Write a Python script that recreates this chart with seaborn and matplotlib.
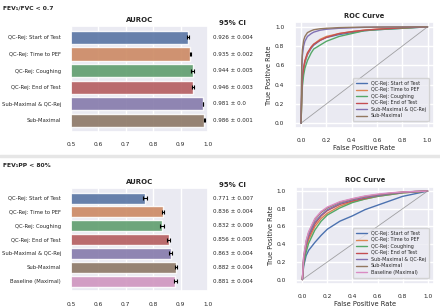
import numpy as np
import pandas as pd
import matplotlib
matplotlib.use("Agg")
import matplotlib.pyplot as plt
import seaborn as sns
from matplotlib.lines import Line2D

# veriler: ust panel (FEV1/FVC < 0.7)
labels_top = ["QC-Rej: Start of Test", "QC-Rej: Time to PEF", "QC-Rej: Coughing",
              "QC-Rej: End of Test", "Sub-Maximal & QC-Rej", "Sub-Maximal"]
auc_top = [0.926, 0.935, 0.944, 0.946, 0.981, 0.986]
ci_top = [0.004, 0.002, 0.005, 0.003, 0.0, 0.001]

# alt panel (FEV1PP < 80%)
labels_bot = ["QC-Rej: Start of Test", "QC-Rej: Time to PEF", "QC-Rej: Coughing",
              "QC-Rej: End of Test", "Sub-Maximal & QC-Rej", "Sub-Maximal",
              "Baseline (Maximal)"]
auc_bot = [0.771, 0.836, 0.832, 0.856, 0.863, 0.882, 0.881]
ci_bot = [0.007, 0.004, 0.009, 0.005, 0.004, 0.004, 0.004]

# ROC egrileri (resimden okunan yaklasik noktalar)
roc_fpr_top = [0.0, 0.005, 0.01, 0.02, 0.03, 0.05, 0.08, 0.1, 0.15, 0.2, 0.3, 0.4, 0.5, 0.6, 0.8, 1.0]
roc_tpr_top = {
    "QC-Rej: Start of Test": [0.0, 0.30, 0.45, 0.56, 0.63, 0.71, 0.78, 0.81, 0.86, 0.89, 0.92, 0.94, 0.96, 0.97, 0.985, 1.0],
    "QC-Rej: Time to PEF": [0.0, 0.32, 0.47, 0.57, 0.64, 0.72, 0.79, 0.82, 0.87, 0.90, 0.93, 0.95, 0.965, 0.975, 0.99, 1.0],
    "QC-Rej: Coughing": [0.0, 0.25, 0.38, 0.50, 0.57, 0.65, 0.73, 0.77, 0.81, 0.85, 0.90, 0.93, 0.96, 0.97, 0.985, 1.0],
    "QC-Rej: End of Test": [0.0, 0.33, 0.48, 0.58, 0.65, 0.73, 0.79, 0.82, 0.86, 0.89, 0.93, 0.95, 0.965, 0.975, 0.99, 1.0],
    "Sub-Maximal & QC-Rej": [0.0, 0.55, 0.70, 0.80, 0.85, 0.90, 0.93, 0.945, 0.965, 0.975, 0.985, 0.99, 0.995, 0.997, 0.999, 1.0],
    "Sub-Maximal": [0.0, 0.60, 0.76, 0.86, 0.90, 0.94, 0.96, 0.97, 0.98, 0.985, 0.992, 0.995, 0.997, 0.998, 0.999, 1.0],
}
roc_fpr_bot = [0.0, 0.01, 0.03, 0.05, 0.1, 0.15, 0.2, 0.3, 0.4, 0.5, 0.6, 0.7, 0.8, 0.9, 1.0]
roc_tpr_bot = {
    "QC-Rej: Start of Test": [0.0, 0.15, 0.27, 0.33, 0.42, 0.50, 0.57, 0.66, 0.72, 0.79, 0.84, 0.89, 0.94, 0.97, 1.0],
    "QC-Rej: Time to PEF": [0.0, 0.20, 0.36, 0.45, 0.60, 0.69, 0.75, 0.83, 0.88, 0.91, 0.94, 0.96, 0.98, 0.99, 1.0],
    "QC-Rej: Coughing": [0.0, 0.17, 0.31, 0.41, 0.56, 0.66, 0.73, 0.81, 0.87, 0.91, 0.94, 0.96, 0.98, 0.99, 1.0],
    "QC-Rej: End of Test": [0.0, 0.22, 0.39, 0.48, 0.63, 0.72, 0.78, 0.85, 0.89, 0.92, 0.95, 0.97, 0.985, 0.995, 1.0],
    "Sub-Maximal & QC-Rej": [0.0, 0.23, 0.40, 0.50, 0.65, 0.73, 0.79, 0.86, 0.90, 0.93, 0.95, 0.97, 0.985, 0.995, 1.0],
    "Sub-Maximal": [0.0, 0.25, 0.43, 0.53, 0.68, 0.76, 0.81, 0.875, 0.91, 0.94, 0.96, 0.975, 0.99, 0.995, 1.0],
    "Baseline (Maximal)": [0.0, 0.26, 0.44, 0.54, 0.69, 0.77, 0.82, 0.88, 0.915, 0.945, 0.965, 0.98, 0.99, 0.995, 1.0],
}

sns.set_theme(style="darkgrid")
plt.rcParams['font.family'] = ['DejaVu Sans']
pal = sns.color_palette("deep")

fig = plt.figure(figsize=(4.4, 3.06), dpi=100)


def bar_panel(rect, labels, auc, ci):
    ax = fig.add_axes(rect)
    sns.barplot(x=auc, y=labels, hue=labels, palette=pal[:len(labels)], legend=False,
                ax=ax, alpha=0.9, width=0.8)
    ax.errorbar(auc, range(len(labels)), xerr=ci, fmt="none", ecolor="black",
                elinewidth=0.8, capsize=1.5, capthick=0.8)
    ax.set_xlim(0.5, 1.0)
    ax.set_xticks([0.5, 0.6, 0.7, 0.8, 0.9, 1.0])
    ax.tick_params(axis="x", labelsize=4.2, pad=1.5)
    ax.tick_params(axis="y", labelsize=3.75, pad=1)
    ax.set_ylabel("")
    ax.set_title("AUROC", fontsize=5, fontweight="bold", pad=3)
    tr = ax.get_yaxis_transform()
    for i, (a, c) in enumerate(zip(auc, ci)):
        ax.text(1.035, i, f"{a} ± {c}", transform=tr, fontsize=4.1, va="center", ha="left")
    ax.text(1.18, 1.0, "95% CI", transform=ax.transAxes, fontsize=5, fontweight="bold",
            ha="center", va="bottom")
    return ax


def roc_panel(rect, fpr, tprs):
    ax = fig.add_axes(rect)
    for i, (name, tpr) in enumerate(tprs.items()):
        sns.lineplot(x=fpr, y=tpr, ax=ax, color=pal[i], label=name, lw=1,
                     estimator=None, sort=False)
    ax.plot([0, 1], [0, 1], color="gray", lw=0.6, alpha=0.7)
    ax.set_xlim(-0.05, 1.05)
    ax.set_ylim(-0.05, 1.05)
    ax.set_xticks(np.arange(0, 1.01, 0.2))
    ax.set_yticks(np.arange(0, 1.01, 0.2))
    ax.tick_params(labelsize=4.2, pad=1.5)
    ax.set_xlabel("False Positive Rate", fontsize=4.8, labelpad=1)
    ax.set_ylabel("True Positive Rate", fontsize=4.8, labelpad=2)
    ax.set_title("ROC Curve", fontsize=4.9, fontweight="bold", pad=3)
    ax.legend(loc="lower right", fontsize=3.5, handlelength=2.2, labelspacing=0.3,
              borderpad=0.6, frameon=True, bbox_to_anchor=(0.98, 0.04))
    return ax


bar_panel([0.161, 0.569, 0.312, 0.346], labels_top, auc_top, ci_top)
roc_panel([0.670, 0.582, 0.316, 0.346], roc_fpr_top, roc_tpr_top)

bar_panel([0.161, 0.048, 0.312, 0.338], labels_bot, auc_bot, ci_bot)
roc_panel([0.673, 0.072, 0.313, 0.318], roc_fpr_bot, roc_tpr_bot)

fig.text(0.007, 0.975, "FEV₁/FVC < 0.7", fontsize=4.3, fontweight="bold", va="center")
fig.text(0.007, 0.46, "FEV₁PP < 80%", fontsize=4.3, fontweight="bold", va="center")

# ayirici cizgi
fig.add_artist(Line2D([0, 1], [0.49, 0.49], transform=fig.transFigure,
                      color="#e6e6e6", lw=2.5))

fig.savefig("out.png", dpi=100)
